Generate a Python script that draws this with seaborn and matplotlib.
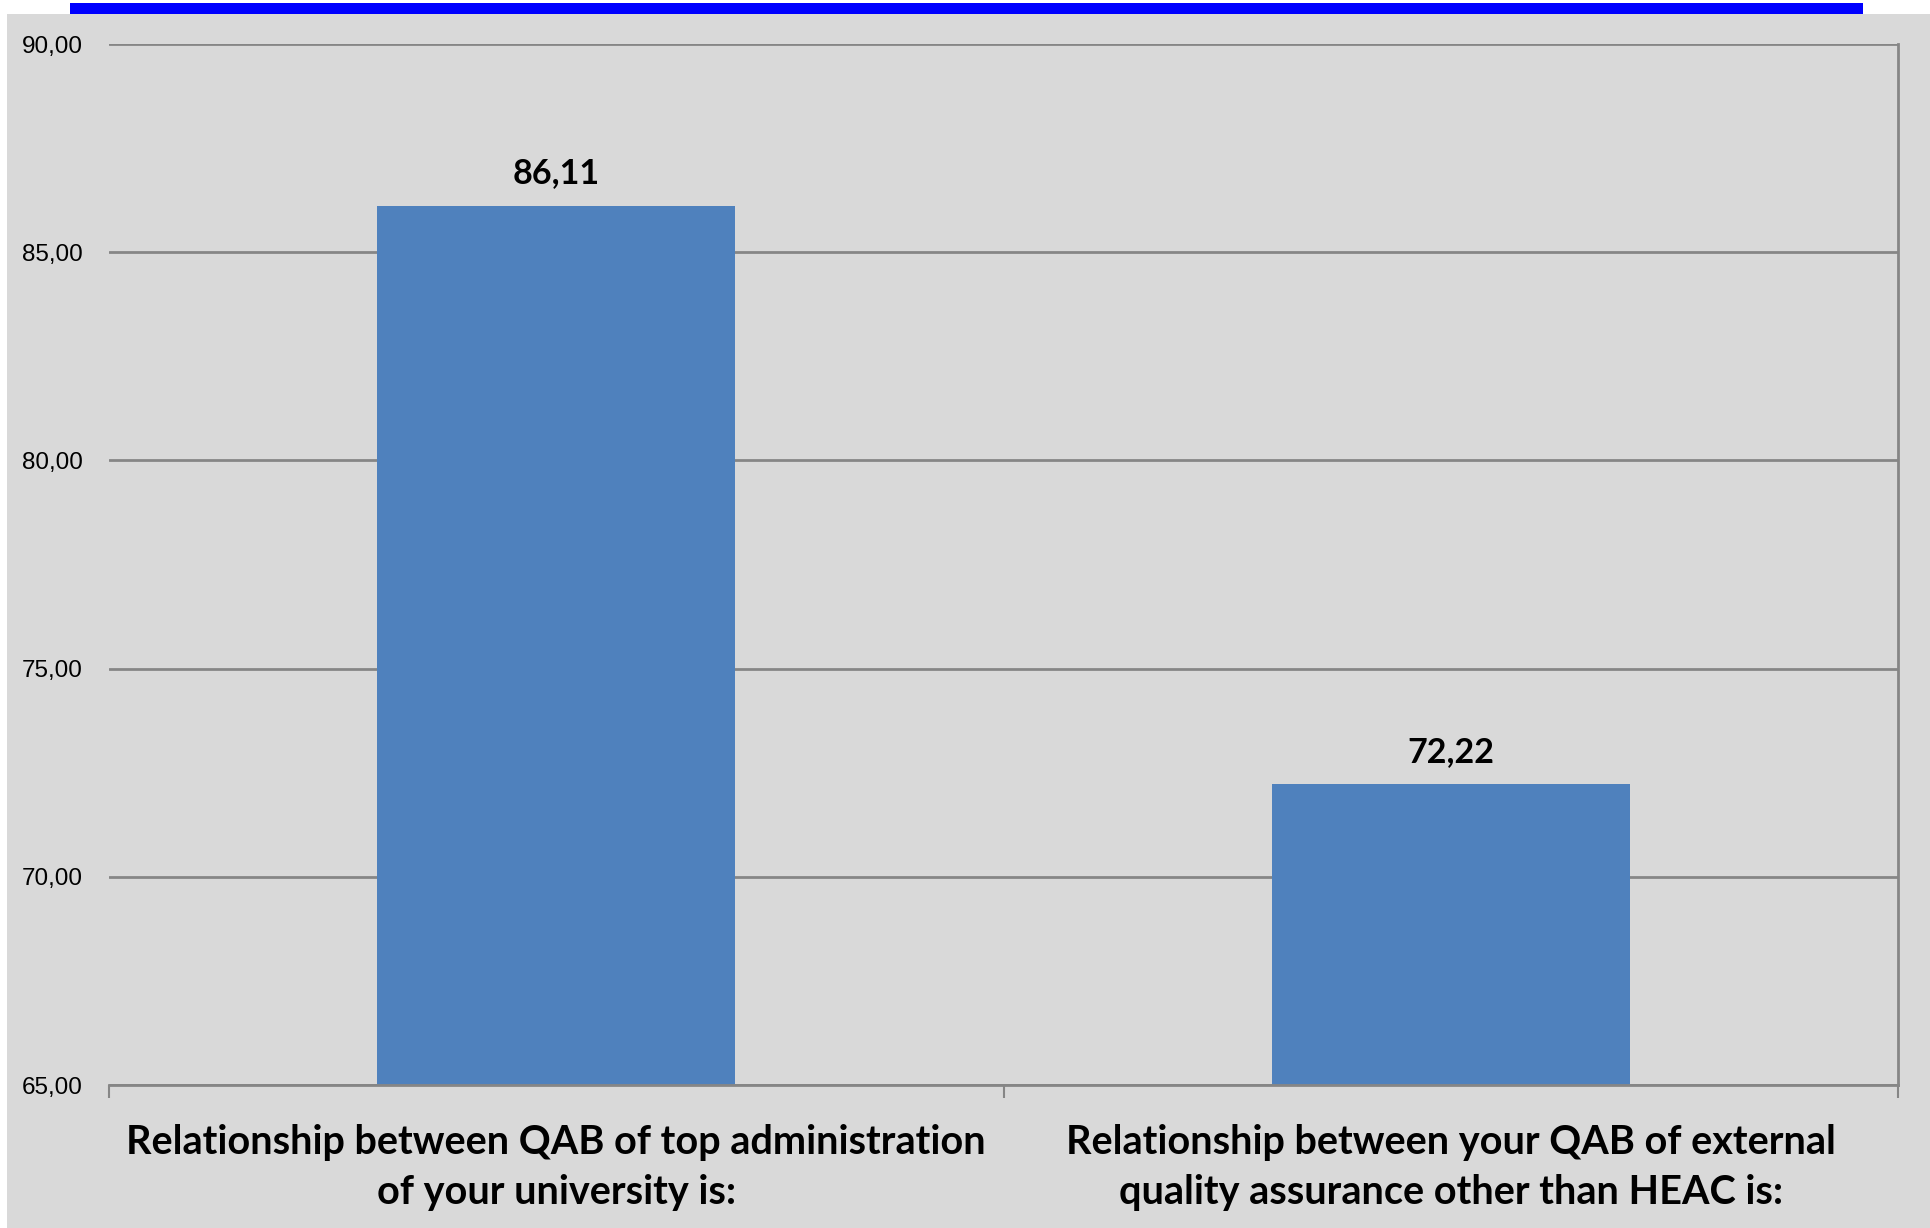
import matplotlib
matplotlib.use("Agg")
import matplotlib.pyplot as plt
import seaborn as sns
import pandas as pd
from matplotlib.patches import Rectangle
from matplotlib.ticker import FixedLocator, FuncFormatter

categories = [
    "Relationship between QAB of top administration\nof your university is:",
    "Relationship between your QAB of external\nquality assurance other than HEAC is:",
]
values = [86.11, 72.22]
value_labels = ["86,11", "72,22"]
yticks = [65, 70, 75, 80, 85, 90]

df = pd.DataFrame({"category": categories, "value": values})

sns.set_theme(style="white")
plt.rcParams["font.family"] = ["Lato", "DejaVu Sans"]

W, H = 1930, 1228
fig = plt.figure(figsize=(W / 100, H / 100), dpi=100)
fig.patch.set_facecolor("white")

# gray panel and blue top strip
fig.patches.append(Rectangle((7 / W, 0), 1 - 7 / W, 1 - 14 / H, transform=fig.transFigure,
                             facecolor="#D9D9D9", edgecolor="none", zorder=-10))
fig.patches.append(Rectangle((70 / W, 1 - 14 / H), (1863 - 70) / W, 11 / H, transform=fig.transFigure,
                             facecolor="#0000FF", edgecolor="none", zorder=-10))

ax = fig.add_axes([109 / W, 1 - 1085 / H, (1898 - 109) / W, (1085 - 44) / H])
ax.set_facecolor("none")
ax.set_zorder(1)

sns.barplot(data=df, x="category", y="value", color="#4F81BD", width=0.4,
            saturation=1, ax=ax, zorder=3)
for p in ax.patches:
    p.set_edgecolor("none")

ax.set_ylim(65, 90)
ax.set_xlim(-0.5, 1.5)
ax.yaxis.set_major_locator(FixedLocator(yticks))
ax.yaxis.set_major_formatter(FuncFormatter(lambda v, pos: f"{v:.2f}".replace(".", ",")))
ax.grid(axis="y", color="#868686", linewidth=2, zorder=1)
ax.tick_params(axis="y", which="major", length=0, pad=19, labelcolor="black")
for t in ax.get_yticklabels():
    t.set_fontfamily(["Liberation Sans", "DejaVu Sans"])
    t.set_fontsize(17.5)

ax.set_xlabel("")
ax.set_ylabel("")
ax.set_xticks([0, 1])
ax.set_xticklabels(categories, fontsize=28.5, fontweight="bold", linespacing=1.45)
ax.tick_params(axis="x", which="major", length=0, pad=28, labelcolor="black")
ax.set_xticks([-0.5, 0.5, 1.5], minor=True)
ax.tick_params(axis="x", which="minor", length=9.5, width=1.5, color="#868686", direction="out", bottom=True)

for side in ["left", "top"]:
    ax.spines[side].set_visible(False)
for side in ["bottom", "right"]:
    ax.spines[side].set_visible(True)
    ax.spines[side].set_color("#868686")
    ax.spines[side].set_linewidth(2)
    ax.spines[side].set_zorder(4)

for i, (v, lab) in enumerate(zip(values, value_labels)):
    ax.annotate(lab, (i, v), xytext=(0, 12), textcoords="offset points",
                ha="center", va="bottom", fontsize=24.6, fontweight="bold", color="black")

fig.savefig("out.png", dpi=100, facecolor=fig.get_facecolor())
